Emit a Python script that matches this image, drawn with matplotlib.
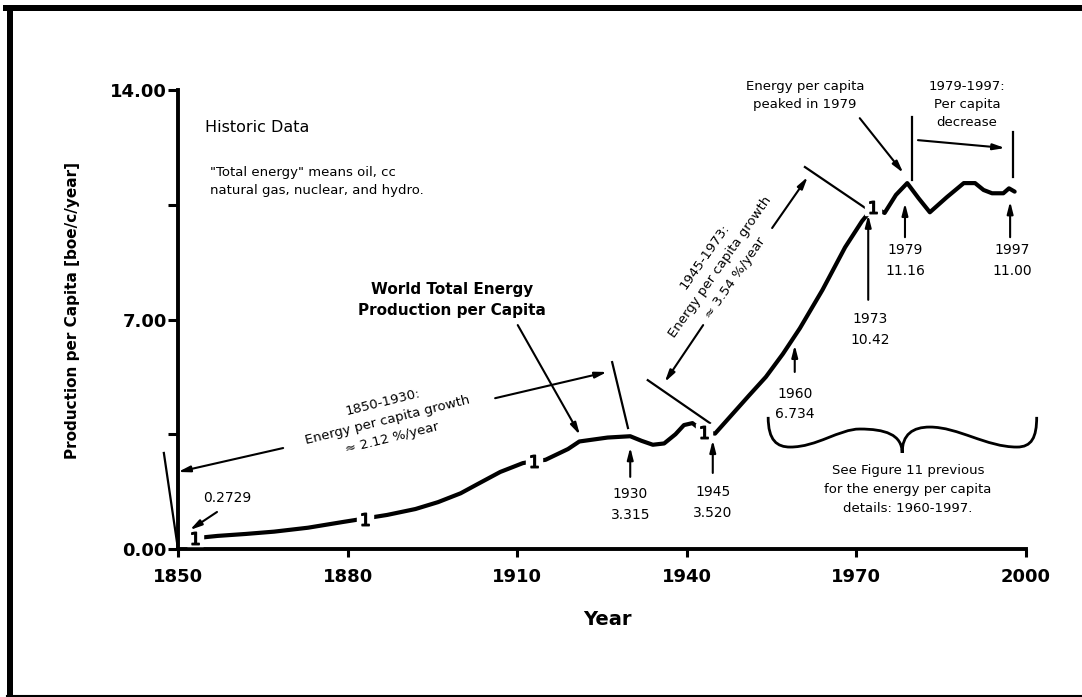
import matplotlib
matplotlib.use('Agg')
import matplotlib.pyplot as plt
from matplotlib.path import Path
from matplotlib.patches import PathPatch, Rectangle
from matplotlib.lines import Line2D

# World total energy production per capita (boe/c/year)
years = [1853, 1857, 1862, 1867, 1873, 1879, 1883, 1887, 1892, 1896, 1900,
         1903, 1907, 1911, 1913, 1915, 1919, 1921, 1926, 1930, 1932, 1934,
         1936, 1938, 1939.5, 1941, 1943, 1945, 1948, 1951, 1954, 1957, 1960,
         1964, 1968, 1971, 1973, 1975, 1977, 1979, 1981, 1983, 1986, 1989,
         1991, 1992.5, 1994, 1996, 1997, 1998]
energy = [0.33, 0.40, 0.46, 0.53, 0.65, 0.82, 0.93, 1.04, 1.22, 1.43, 1.70,
          1.98, 2.35, 2.62, 2.68, 2.72, 3.05, 3.28, 3.40, 3.44, 3.30, 3.18,
          3.22, 3.50, 3.78, 3.84, 3.57, 3.52, 4.10, 4.68, 5.25, 5.95, 6.73,
          7.90, 9.20, 10.00, 10.42, 10.25, 10.80, 11.16, 10.70, 10.27, 10.73,
          11.16, 11.16, 10.95, 10.85, 10.85, 11.00, 10.90]
marker_years = [1853, 1883, 1913, 1943, 1973]

x_ticks = [1850, 1880, 1910, 1940, 1970, 2000]
y_ticks = [0, 7, 14]
y_labels = ['0.00', '7.00', '14.00']

fig = plt.figure(figsize=(10.82, 6.97), dpi=100)

# scanned page frame
fig.add_artist(Rectangle((0.003, 0.984), 0.997, 0.009, transform=fig.transFigure,
                         color='black', lw=0))
fig.add_artist(Rectangle((0.0065, 0.0), 0.0055, 0.993, transform=fig.transFigure,
                         color='black', lw=0))
fig.add_artist(Line2D([0.0065, 1.0], [0.002, 0.002], transform=fig.transFigure,
                      color='black', lw=1.5))

ax = fig.add_axes([0.1645, 0.2123, 0.7837, 0.6586])
ax.set_xlim(1850, 2000)
ax.set_ylim(0, 14)
for s in ['top', 'right']:
    ax.spines[s].set_visible(False)
for s in ['left', 'bottom']:
    ax.spines[s].set_linewidth(2.8)

ax.set_xticks(x_ticks)
ax.set_xticklabels([str(x) for x in x_ticks], fontsize=13, fontweight='bold')
ax.set_yticks(y_ticks)
ax.set_yticklabels(y_labels, fontsize=13, fontweight='bold')
ax.set_yticks([3.5, 10.5], minor=True)
ax.tick_params(axis='x', direction='out', length=6, width=2.2, pad=8)
ax.tick_params(axis='y', which='both', direction='out', length=7, width=2.2, pad=1)

ax.set_ylabel('Production per Capita [boe/c/year]', fontsize=11, fontweight='bold')
ax.yaxis.set_label_coords(-0.115, 0.52)
ax.set_xlabel('Year', fontsize=14, fontweight='bold')
ax.xaxis.set_label_coords(0.507, -0.133)

idx = [years.index(y) for y in marker_years]
ax.plot(years, energy, color='black', lw=3, solid_capstyle='round', zorder=3)
ax.plot(years, energy, ls='none', marker='s', ms=11, mfc='white', mec='white',
        markevery=idx, zorder=4)
ax.plot(years, energy, ls='none', marker='$1$', ms=9, color='black',
        markevery=idx, zorder=5)

arrow = dict(arrowstyle='-|>,head_length=0.7,head_width=0.18', color='black',
             lw=1.5, shrinkA=0, shrinkB=0)
line_kw = dict(color='black', lw=1.6, clip_on=False)


def arr(x0, y0, x1, y1):
    ax.annotate('', xy=(x1, y1), xytext=(x0, y0), arrowprops=arrow,
                annotation_clip=False)


# text blocks
ax.text(1854.8, 12.87, 'Historic Data', fontsize=11.5, va='center')
ax.text(1855.7, 11.21, '"Total energy" means oil, cc\nnatural gas, nuclear, and hydro.',
        fontsize=9.5, va='center', linespacing=1.5)
ax.text(1898.5, 7.6, 'World Total Energy\nProduction per Capita', fontsize=11,
        fontweight='bold', ha='center', va='center', linespacing=1.5)
arr(1910.1, 6.83, 1921.1, 3.48)

# 1850-1930 growth
ax.plot([1847.5, 1850], [2.93, 0], **line_kw)
arr(1868.6, 3.08, 1850, 2.35)
arr(1906.1, 4.6, 1925.9, 5.4)
ax.plot([1926.8, 1929.6], [5.7, 3.69], **line_kw)
ax.text(1887.1, 3.93, '1850-1930:\nEnergy per capita growth\n\u2248 2.12 %/year',
        fontsize=9.5, ha='center', va='center', rotation=14, linespacing=1.55,
        rotation_mode='anchor')

ax.text(1854.4, 1.56, '0.2729', fontsize=10, va='center')
arr(1856.9, 1.13, 1852.1, 0.58)

# point labels: arrow x, text x, arrow start, arrow end, text y, label
labels = [(1930.0, 1930.0, 2.2, 3.1, 1.36, '1930\n3.315'),
          (1944.6, 1944.6, 2.32, 3.32, 1.42, '1945\n3.520'),
          (1959.1, 1959.1, 5.4, 6.22, 4.42, '1960\n6.734'),
          (1972.1, 1972.4, 7.6, 10.19, 6.7, '1973\n10.42'),
          (1978.6, 1978.6, 9.51, 10.55, 8.8, '1979\n11.16'),
          (1997.2, 1997.5, 9.51, 10.6, 8.8, '1997\n11.00')]
for xa, xt, y0, y1, yt, lab in labels:
    arr(xa, y0, xa, y1)
    ax.text(xt, yt, lab, fontsize=10, ha='center', va='center', linespacing=1.6)

# 1945-1973 growth
ax.plot([1933.1, 1944.1], [5.15, 3.84], **line_kw)
arr(1942.9, 6.83, 1936.1, 5.09)
arr(1955.1, 9.79, 1961.4, 11.35)
ax.plot([1960.9, 1972.1], [11.65, 10.34], **line_kw)
ax.text(1945.9, 8.6, '1945-1973:\nEnergy per capita growth\n\u2248 3.54 %/year',
        fontsize=9.5, ha='center', va='center', rotation=55, linespacing=1.55,
        rotation_mode='anchor')

# peak and decline
ax.text(1960.9, 13.84, 'Energy per capita\npeaked in 1979', fontsize=9.5,
        ha='center', va='center', linespacing=1.5)
arr(1970.6, 13.14, 1978.3, 11.47)
ax.text(1989.6, 13.57, '1979-1997:\nPer capita\ndecrease', fontsize=9.5,
        ha='center', va='center', linespacing=1.5)
ax.plot([1979.8, 1979.8], [13.17, 11.25], **line_kw)
ax.plot([1997.7, 1997.7], [12.72, 11.35], **line_kw)
arr(1980.9, 12.47, 1996.3, 12.23)

# brace under 1960-1997
verts = [(1954.4, 4.03),
         (1954.4, 3.3), (1956.0, 3.11), (1958.3, 3.11),
         (1963.0, 3.11), (1967.0, 3.66), (1970.6, 3.66),
         (1975.0, 3.66), (1978.1, 3.5), (1978.1, 2.93),
         (1978.1, 3.5), (1980.0, 3.72), (1983.0, 3.72),
         (1988.0, 3.72), (1993.0, 3.11), (1998.4, 3.11),
         (2001.0, 3.11), (2001.9, 3.4), (2001.9, 4.03)]
codes = [Path.MOVETO] + [Path.CURVE4] * 18
ax.add_patch(PathPatch(Path(verts, codes), fill=False, lw=2, color='black',
                       clip_on=False))
ax.text(1979.1, 1.83, 'See Figure 11 previous\nfor the energy per capita\ndetails: 1960-1997.',
        fontsize=9.5, ha='center', va='center', linespacing=1.6)

fig.savefig('out.png', dpi=100)
